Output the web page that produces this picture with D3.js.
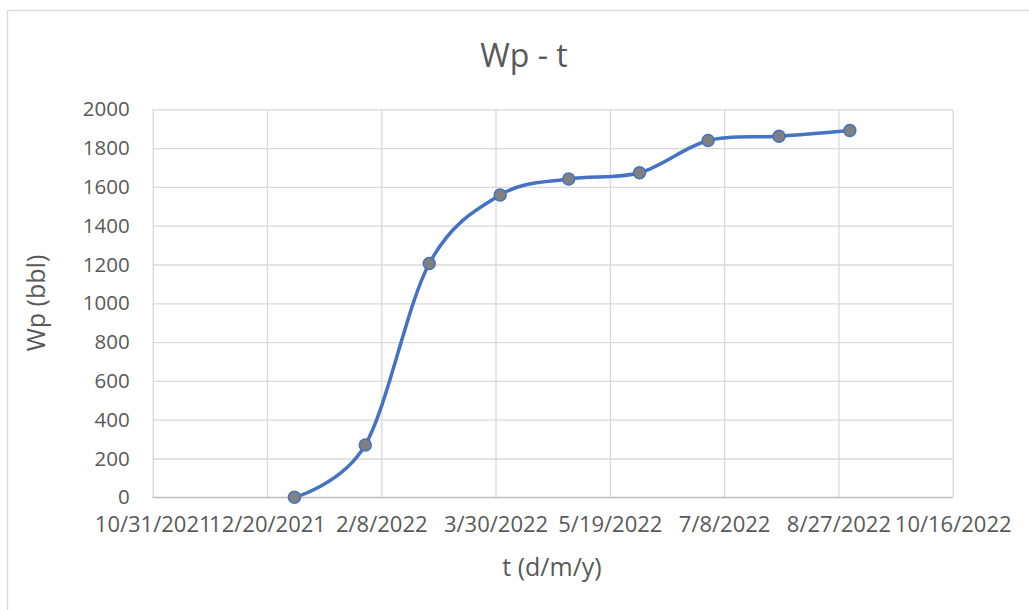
<!DOCTYPE html>
<html>
<head>
<meta charset="utf-8">
<script src="https://cdn.jsdelivr.net/npm/d3@7"></script>
<style>
  html, body { margin: 0; padding: 0; background: #fff; }
  svg { display: block; }
  text { font-family: "Open Sans", sans-serif; fill: #595959; }
</style>
</head>
<body>
<svg id="chart" width="1029" height="610"></svg>
<script>
// ---- data ----
const dates = ["2022-01-01", "2022-02-01", "2022-03-01", "2022-04-01", "2022-05-01",
               "2022-06-01", "2022-07-01", "2022-08-01", "2022-09-01"];
const wp = [0, 270, 1205, 1558, 1641, 1673, 1839, 1861, 1891];
const xTicks = ["2021-10-31", "2021-12-20", "2022-02-08", "2022-03-30", "2022-05-19",
                "2022-07-08", "2022-08-27", "2022-10-16"];
const yTicks = [0, 200, 400, 600, 800, 1000, 1200, 1400, 1600, 1800, 2000];
const title = "Wp - t";
const xTitle = "t (d/m/y)";
const yTitle = "Wp (bbl)";

// ---- layout ----
const svg = d3.select("#chart");
const parse = d3.utcParse("%Y-%m-%d");
const fmt = d3.utcFormat("%-m/%-d/%Y");
const pLeft = 152.7, pRight = 952.7, pTop = 109.3, pBottom = 497.3;

const x = d3.scaleUtc()
  .domain([parse(xTicks[0]), parse(xTicks[xTicks.length - 1])])
  .range([pLeft, pRight]);
const y = d3.scaleLinear().domain([0, 2000]).range([pBottom, pTop]);

// chart border
svg.append("rect")
  .attr("x", 7.5).attr("y", 10.5)
  .attr("width", 1040).attr("height", 620)
  .attr("fill", "none").attr("stroke", "#D9D9D9").attr("stroke-width", 1.3);

// horizontal gridlines
svg.append("g")
  .attr("transform", `translate(${pLeft},0)`)
  .call(d3.axisLeft(y).tickValues(yTicks).tickSize(-(pRight - pLeft)).tickFormat(""))
  .call(g => g.select(".domain").remove())
  .call(g => g.selectAll(".tick line").attr("stroke", "#D9D9D9").attr("stroke-width", 1.3));

// vertical gridlines
svg.append("g")
  .attr("transform", `translate(0,${pBottom})`)
  .call(d3.axisBottom(x).tickValues(xTicks.map(parse)).tickSize(-(pBottom - pTop)).tickFormat(""))
  .call(g => g.select(".domain").remove())
  .call(g => g.selectAll(".tick line").attr("stroke", "#D9D9D9").attr("stroke-width", 1.3));

// bottom axis line
svg.append("line")
  .attr("x1", pLeft).attr("x2", pRight).attr("y1", pBottom).attr("y2", pBottom)
  .attr("stroke", "#BFBFBF").attr("stroke-width", 1.3);

// y tick labels
svg.append("g")
  .attr("transform", `translate(${pLeft},0)`)
  .call(d3.axisLeft(y).tickValues(yTicks).tickSize(0).tickPadding(23).tickFormat(d3.format("d")))
  .call(g => g.select(".domain").remove())
  .call(g => g.selectAll("text")
    .style("font-family", "'Open Sans', sans-serif")
    .style("font-size", "20.5px").attr("fill", "#595959"));

// x tick labels
svg.append("g")
  .attr("transform", `translate(0,${pBottom})`)
  .call(d3.axisBottom(x).tickValues(xTicks.map(parse)).tickSize(0).tickPadding(19).tickFormat(fmt))
  .call(g => g.select(".domain").remove())
  .call(g => g.selectAll("text")
    .style("font-family", "'Open Sans', sans-serif")
    .style("font-size", "22px").attr("fill", "#595959"));

// line
const pts = dates.map((d, i) => ({ t: parse(d), v: wp[i] }));
svg.append("path")
  .datum(pts)
  .attr("fill", "none")
  .attr("stroke", "#4472C4")
  .attr("stroke-width", 3.5)
  .attr("stroke-linejoin", "round")
  .attr("stroke-linecap", "round")
  .attr("d", d3.line().x(d => x(d.t)).y(d => y(d.v)).curve(d3.curveCardinal.tension(0)));

// markers
svg.append("g").selectAll("circle")
  .data(pts).join("circle")
  .attr("cx", d => x(d.t)).attr("cy", d => y(d.v))
  .attr("r", 6)
  .attr("fill", "#808080")
  .attr("stroke", "#4472C4")
  .attr("stroke-width", 1.5);

// titles
svg.append("text")
  .attr("x", 524).attr("y", 67)
  .attr("text-anchor", "middle")
  .style("font-size", "32px")
  .text(title);

svg.append("text")
  .attr("x", 552).attr("y", 576)
  .attr("text-anchor", "middle")
  .style("font-size", "25px")
  .text(xTitle);

svg.append("text")
  .attr("transform", "translate(45,303) rotate(-90)")
  .attr("text-anchor", "middle")
  .style("font-size", "25px")
  .text(yTitle);
</script>
</body>
</html>
